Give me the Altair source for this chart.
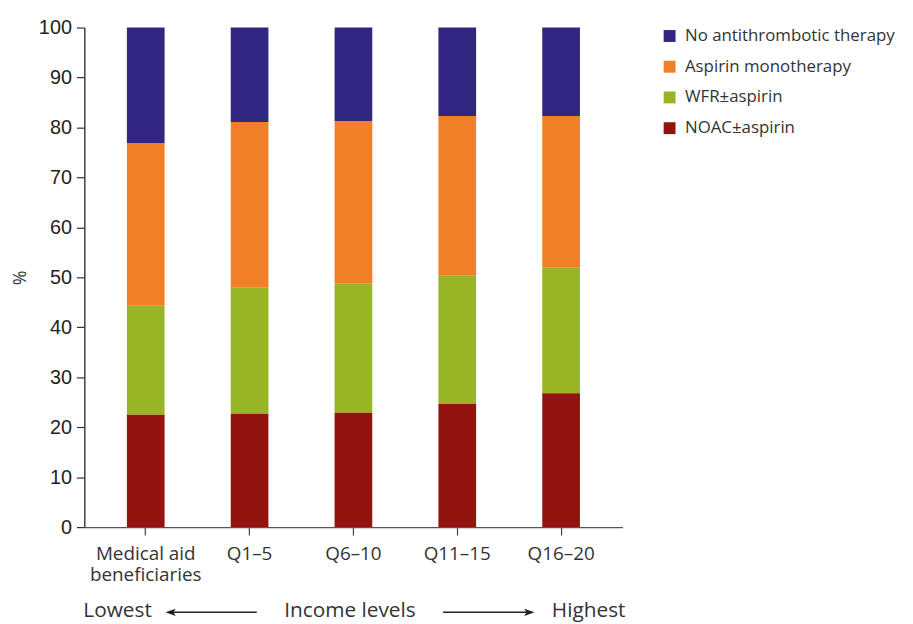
import altair as alt
import pandas as pd

groups = ["Medical aid beneficiaries", "Q1–5", "Q6–10", "Q11–15", "Q16–20"]
series = ["No antithrombotic therapy", "Aspirin monotherapy", "WFR±aspirin", "NOAC±aspirin"]
colors = ["#312682", "#f07f27", "#97b525", "#93140f"]
stack_rank = [4, 3, 2, 1]

noac = [22.5, 22.7, 22.9, 24.7, 26.8]
wfr = [21.8, 25.2, 25.8, 25.6, 25.1]
aspirin = [32.6, 33.2, 32.6, 32.0, 30.4]
no_therapy = [23.1, 18.9, 18.7, 17.7, 17.7]

y_ticks = list(range(0, 101, 10))
bottom_labels = ["Lowest", "Income levels", "Highest"]

values = {
    "No antithrombotic therapy": no_therapy,
    "Aspirin monotherapy": aspirin,
    "WFR±aspirin": wfr,
    "NOAC±aspirin": noac,
}
rows = []
for s, r in zip(series, stack_rank):
    for g, v in zip(groups, values[s]):
        rows.append({"group": g, "series": s, "value": v, "rank": r})
df = pd.DataFrame(rows)

W, H = 543, 504
FONT = "Open Sans"
TXT = "#333333"

bars = alt.Chart(df).mark_bar().encode(
    x=alt.X("group:N", sort=groups,
            scale=alt.Scale(paddingInner=0.637, paddingOuter=0.41),
            axis=alt.Axis(title=None, labelAngle=0, labelFont=FONT, labelFontSize=19,
                          labelColor=TXT, labelPadding=10, labelLineHeight=21,
                          labelBaseline="top",
                          labelExpr="datum.value == 'Medical aid beneficiaries' ? ['Medical aid', 'beneficiaries'] : datum.value",
                          tickSize=8, tickColor="#444444", domainColor="#555555",
                          tickWidth=1.2, domainWidth=1.4)),
    y=alt.Y("value:Q", stack="zero",
            scale=alt.Scale(domain=[0, 100], nice=False),
            axis=alt.Axis(title="%", values=y_ticks, grid=False,
                          labelFont="Liberation Sans", labelFontSize=20, labelColor="#231f20",
                          labelPadding=5, tickSize=8, tickColor="#333333",
                          domainColor="#333333", tickWidth=1.2, domainWidth=1.4,
                          titleFont=FONT, titleFontSize=18, titleFontWeight="normal",
                          titleColor=TXT, titleX=-64, titleY=252, titleAngle=-90,
                          titleAlign="center", titleBaseline="middle")),
    color=alt.Color("series:N",
                    scale=alt.Scale(domain=series, range=colors),
                    legend=alt.Legend(title=None, orient="none", legendX=582, legendY=0,
                                      symbolType="square", symbolSize=144,
                                      symbolStrokeWidth=0, symbolOpacity=1,
                                      labelFont=FONT, labelFontSize=17, labelColor=TXT,
                                      labelLimit=0, labelOffset=7, rowPadding=13,
                                      padding=0)),
    order=alt.Order("rank:Q", sort="ascending"),
)

one = pd.DataFrame({"k": [0]})

t_low = alt.Chart(one).mark_text(font=FONT, fontSize=21, color=TXT, align="left",
                                 baseline="alphabetic").encode(
    x=alt.value(-1), y=alt.value(595), text=alt.value(bottom_labels[0]))
t_mid = alt.Chart(one).mark_text(font=FONT, fontSize=21, color=TXT, align="center",
                                 baseline="alphabetic").encode(
    x=alt.value(268), y=alt.value(595), text=alt.value(bottom_labels[1]))
t_high = alt.Chart(one).mark_text(font=FONT, fontSize=21, color=TXT, align="right",
                                  baseline="alphabetic").encode(
    x=alt.value(546), y=alt.value(595), text=alt.value(bottom_labels[2]))

arrow_l = alt.Chart(one).mark_rule(color="#222222", strokeWidth=1.5).encode(
    x=alt.value(86), x2=alt.value(174), y=alt.value(590))
arrow_r = alt.Chart(one).mark_rule(color="#222222", strokeWidth=1.5).encode(
    x=alt.value(362), x2=alt.value(450), y=alt.value(590))
head_l = alt.Chart(one).mark_point(shape="M1,-0.7L-1,0L1,0.7L0.55,0Z", filled=True,
                                   color="#222222", opacity=1, size=110).encode(
    x=alt.value(87), y=alt.value(590))
head_r = alt.Chart(one).mark_point(shape="M-1,-0.7L1,0L-1,0.7L-0.55,0Z", filled=True,
                                   color="#222222", opacity=1, size=110).encode(
    x=alt.value(449), y=alt.value(590))

chart = alt.layer(bars, t_low, t_mid, t_high, arrow_l, arrow_r, head_l, head_r).properties(
    width=W, height=H,
    background="white",
    padding={"left": 77, "top": 17, "right": 285, "bottom": 95},
    autosize=alt.AutoSizeParams(type="none"),
).configure_view(strokeWidth=0)

chart.save("out.html", embed_options={"renderer": "svg", "actions": False})
